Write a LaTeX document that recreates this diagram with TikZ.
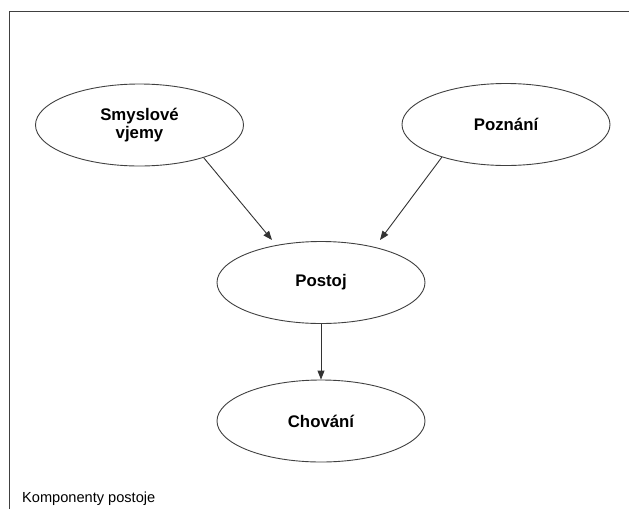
\documentclass[tikz,border=0pt]{standalone}
\usepackage{fontspec}
\setmainfont{Liberation Sans}
\usetikzlibrary{shapes.geometric,arrows.meta}
\begin{document}
\begin{tikzpicture}[x=1pt,y=-1pt,
  comp/.style={ellipse, draw=black!75, line width=0.9pt, fill=white,
    minimum width=208pt, minimum height=82pt, inner sep=0pt,
    font=\fontsize{16.8}{18.5}\selectfont\bfseries, align=center},
  link/.style={draw=black!80, line width=0.9pt,
    -{Triangle[length=9pt,width=7pt]}},
  frame/.style={draw=black!75, line width=1pt},
  caption/.style={anchor=base west, inner sep=0pt,
    font=\fontsize{14.6}{18}\selectfont}]
\useasboundingbox (0,0) rectangle (629,509);
% open frame: left and top edges
\draw[frame] (9.5,509) -- (9.5,11.5) -- (629,11.5);

% components
\node[comp] (s) at (139.5,125) {Smyslové\\vjemy};
\node[comp] (z) at (506,124.5) {Poznání};
\node[comp] (p) at (321,282.5) {Postoj};
\node[comp] (c) at (321,421) {Chování};

% arrow tips above the attitude node
\coordinate (tl) at (272,240);
\coordinate (tr) at (380,240);

\draw[link] (s.-27) -- (tl);
\draw[link] (z.-153) -- (tr);
\draw[link] (p.south) -- (c.north);

\node[caption] (cap) at (22,502) {Komponenty postoje};
\end{tikzpicture}
\end{document}
